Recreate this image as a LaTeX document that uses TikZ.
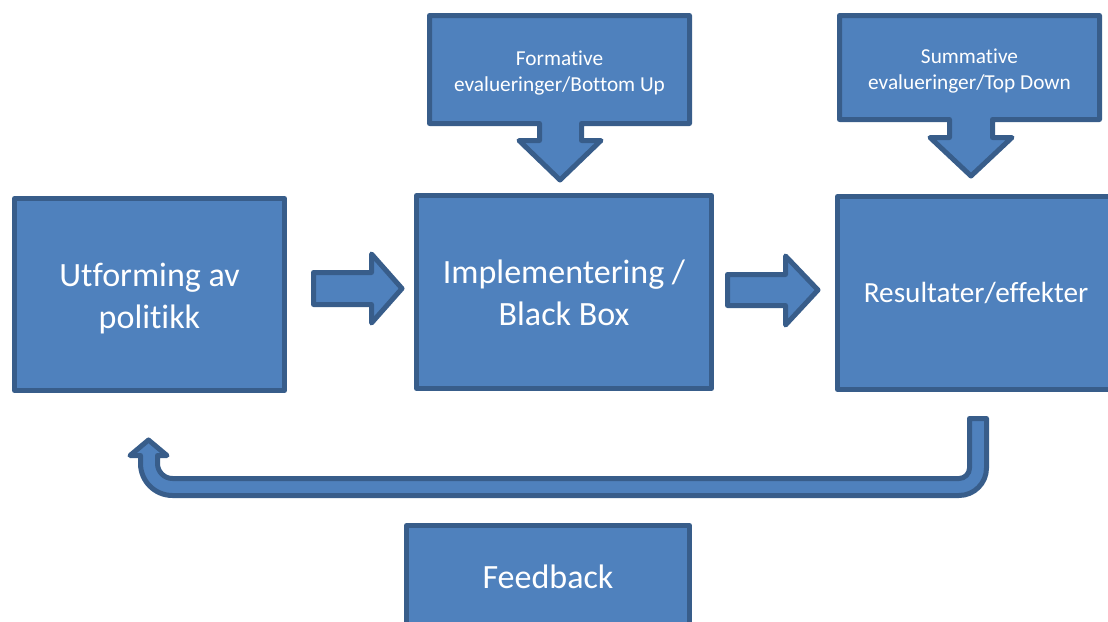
\documentclass[tikz,border=0pt]{standalone}
\usepackage{fontspec}
\setmainfont{Carlito}[RawFeature={-liga;-clig;-dlig}]
\definecolor{boxfill}{HTML}{4F81BD}
\definecolor{boxline}{HTML}{385D8A}
\begin{document}
\begin{tikzpicture}[x=1pt,y=-1pt,
  blk/.style={draw=boxline,fill=boxfill,line width=5pt,line join=round},
  boxnode/.style={blk,rectangle,inner sep=0pt,text=white,align=center},
  bigtxt/.style={font=\fontsize{34}{42}\selectfont},
  smalltxt/.style={text=white,align=center,font=\fontsize{21.3}{26}\selectfont}]
\useasboundingbox (0,0) rectangle (1108,621);
% main boxes
\node[boxnode,minimum width=270pt,minimum height=192pt] (utf) at (149.5,294.5) {};
\node[text=white,align=center,bigtxt] (utftxt) at (149.5,298.5) {Utforming av\\politikk};
\node[boxnode,minimum width=295pt,minimum height=193pt] (impl) at (564,292) {};
\node[text=white,align=center,bigtxt] (impltxt) at (564,293) {Implementering /\\Black Box};
\node[boxnode,minimum width=277pt,minimum height=193pt] (res) at (976,293) {};
\node[text=white,font=\fontsize{29.2}{35}\selectfont] (restxt) at (976,293) {Resultater/effekter};
\node[boxnode,bigtxt,minimum width=283pt,minimum height=103pt] (fb) at (548,577) {Feedback};
% block arrows between boxes
\draw[blk] (313.5,272.5) -- (371.5,272.5) -- (371.5,254) -- (402,288.5) -- (371.5,323) -- (371.5,304.5) -- (313.5,304.5) -- cycle;
\draw[blk] (727.5,274.5) -- (785.5,274.5) -- (785.5,256) -- (818,290) -- (785.5,325) -- (785.5,305.5) -- (727.5,305.5) -- cycle;
% callouts
\draw[blk] (429.5,15.5) -- (689.5,15.5) -- (689.5,123.5) -- (581.5,123.5) -- (581.5,140.5) -- (601,140.5) -- (560,180) -- (519,140.5) -- (539.5,140.5) -- (539.5,123.5) -- (429.5,123.5) -- cycle;
\node[smalltxt] (form) at (559.5,73) {Formative\\evalueringer/Bottom Up};
\draw[blk] (839.5,15.5) -- (1099.5,15.5) -- (1099.5,119.5) -- (992.5,119.5) -- (992.5,137.5) -- (1012,137.5) -- (971,176) -- (930,137.5) -- (949.5,137.5) -- (949.5,119.5) -- (839.5,119.5) -- cycle;
\node[smalltxt] (summ) at (969.5,71) {Summative\\evalueringer/Top Down};
% feedback U-turn arrow
\draw[blk] (969.5,418.5) -- (986.5,418.5) -- (986.5,468)
  .. controls (986.5,483.2) and (974.2,495.5) .. (959,495.5)
  -- (172.5,495.5)
  .. controls (154.83,495.5) and (140.5,481.17) .. (140.5,463.5)
  -- (140.5,455.5) -- (130,455.5) -- (148.5,440) -- (167,455.5) -- (157.5,455.5) -- (157.5,463.5)
  .. controls (157.5,471.78) and (164.22,478.5) .. (172.5,478.5)
  -- (959,478.5)
  .. controls (964.8,478.5) and (969.5,473.8) .. (969.5,468)
  -- cycle;
\end{tikzpicture}
\end{document}
